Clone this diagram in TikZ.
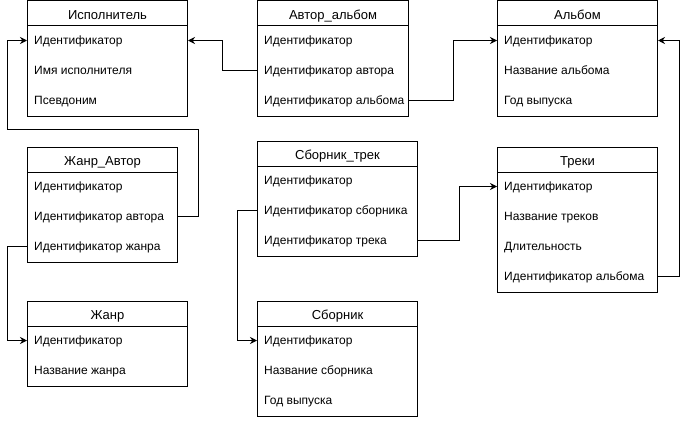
\documentclass[tikz,border=0pt]{standalone}
\usepackage{fontspec}
\setmainfont{Liberation Sans}
\usetikzlibrary{arrows.meta,positioning}

\tikzset{
  tblhead/.style={draw,line width=1pt,anchor=north west,minimum height=25pt,inner sep=0pt,
    text height=11.6pt,text depth=0pt,font=\fontsize{13}{15}\selectfont},
  tblbody/.style={draw,line width=1pt,inner sep=0pt},
  field/.style={anchor=west,inner xsep=7pt,inner ysep=0pt,text height=8pt,text depth=0pt,
    font=\fontsize{12}{14}\selectfont},
  link/.style={line width=1pt,-{Stealth[length=7pt,width=7pt]}},
}

\begin{document}
\begin{tikzpicture}[x=1pt,y=-1pt]
  \useasboundingbox (0,0) rectangle (687,420);

  % Исполнитель
  \node[tblhead,minimum width=160pt] (isp) at (27,0.5) {Исполнитель};
  \node[tblbody,minimum width=160pt,minimum height=90pt,below=-1pt of isp] (isp-box) {};
  \foreach \t [count=\i] in {Идентификатор,Имя исполнителя,Псевдоним}
    \node[field] (isp-\i) at ([yshift={15pt-30pt*\i}]isp-box.north west) {\t};

  % Автор_альбом
  \node[tblhead,minimum width=151pt] (aa) at (257,0.5) {Автор\_альбом};
  \node[tblbody,minimum width=151pt,minimum height=90pt,below=-1pt of aa] (aa-box) {};
  \foreach \t [count=\i] in {Идентификатор,Идентификатор автора,Идентификатор альбома}
    \node[field] (aa-\i) at ([yshift={15pt-30pt*\i}]aa-box.north west) {\t};

  % Альбом
  \node[tblhead,minimum width=160pt] (alb) at (497,0.5) {Альбом};
  \node[tblbody,minimum width=160pt,minimum height=90pt,below=-1pt of alb] (alb-box) {};
  \foreach \t [count=\i] in {Идентификатор,Название альбома,Год выпуска}
    \node[field] (alb-\i) at ([yshift={15pt-30pt*\i}]alb-box.north west) {\t};

  % Жанр_Автор
  \node[tblhead,minimum width=150pt] (ja) at (27,146.5) {Жанр\_Автор};
  \node[tblbody,minimum width=150pt,minimum height=90pt,below=-1pt of ja] (ja-box) {};
  \foreach \t [count=\i] in {Идентификатор,Идентификатор автора,Идентификатор жанра}
    \node[field] (ja-\i) at ([yshift={15pt-30pt*\i}]ja-box.north west) {\t};

  % Сборник_трек
  \node[tblhead,minimum width=160pt] (st) at (257,140.5) {Сборник\_трек};
  \node[tblbody,minimum width=160pt,minimum height=90pt,below=-1pt of st] (st-box) {};
  \foreach \t [count=\i] in {Идентификатор,Идентификатор сборника,Идентификатор трека}
    \node[field] (st-\i) at ([yshift={15pt-30pt*\i}]st-box.north west) {\t};

  % Треки
  \node[tblhead,minimum width=160pt] (tr) at (497,146.5) {Треки};
  \node[tblbody,minimum width=160pt,minimum height=120pt,below=-1pt of tr] (tr-box) {};
  \foreach \t [count=\i] in {Идентификатор,Название треков,Длительность,Идентификатор альбома}
    \node[field] (tr-\i) at ([yshift={15pt-30pt*\i}]tr-box.north west) {\t};

  % Жанр
  \node[tblhead,minimum width=160pt] (zh) at (27,300.5) {Жанр};
  \node[tblbody,minimum width=160pt,minimum height=60pt,below=-1pt of zh] (zh-box) {};
  \foreach \t [count=\i] in {Идентификатор,Название жанра}
    \node[field] (zh-\i) at ([yshift={15pt-30pt*\i}]zh-box.north west) {\t};

  % Сборник
  \node[tblhead,minimum width=160pt] (sb) at (257,300.5) {Сборник};
  \node[tblbody,minimum width=160pt,minimum height=90pt,below=-1pt of sb] (sb-box) {};
  \foreach \t [count=\i] in {Идентификатор,Название сборника,Год выпуска}
    \node[field] (sb-\i) at ([yshift={15pt-30pt*\i}]sb-box.north west) {\t};

  % связи
  \draw[link] (aa-box.west |- aa-2) -- ++(-35,0) |- (isp-box.east |- isp-1);
  \draw[link] (aa-box.east |- aa-3) -- ++(44,0) |- (alb-box.west |- alb-1);
  \draw[link] (ja-box.east |- ja-2) -- ++(20,0) |- (7,129) |- (isp-box.west |- isp-1);
  \draw[link] (ja-box.west |- ja-3) -- ++(-20,0) |- (zh-box.west |- zh-1);
  \draw[link] (st-box.west |- st-2) -- ++(-20,0) |- (sb-box.west |- sb-1);
  \draw[link] (st-box.east |- st-3) -- ++(41,0) |- (tr-box.west |- tr-1);
  \draw[link] (tr-box.east |- tr-4) -- ++(21,0) |- (alb-box.east |- alb-1);
\end{tikzpicture}
\end{document}
